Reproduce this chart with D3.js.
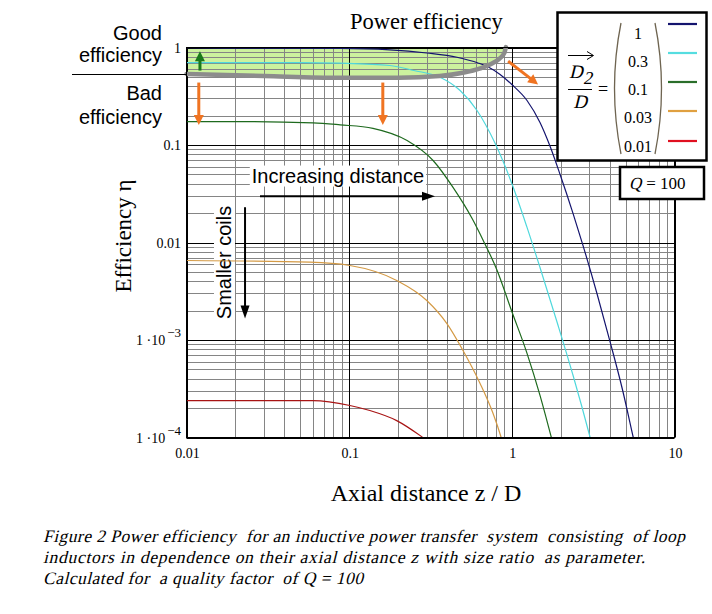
<!DOCTYPE html>
<html lang="en">
<head>
<meta charset="UTF-8">
<title>Power efficiency</title>
<style>
    body { margin: 0; background: #fff; }
    svg { display: block; }
</style>
</head>
<body>
<div id="chart"></div>
<script src="https://d3js.org/d3.v7.min.js"></script>
<script>
    var SERIF = "'Liberation Serif', 'Times New Roman', serif";
    var SANS = "'Liberation Sans', Arial, sans-serif";

    // Size ratios D2/D and their colours
    var ratios = ["1", "0.3", "0.1", "0.03", "0.01"];
    var curveColors = ["#14146e", "#4fd8dc", "#1e6a1e", "#d49a45", "#a81414"];
    var legendColors = ["#14146e", "#55dde0", "#2a6e2a", "#e0a040", "#e01020"];

    // Efficiency curves (z/D, eta)
    var zRatio1 = [0.01, 0.02, 0.088, 0.178, 0.3, 0.46, 0.62, 0.735, 0.847, 1.0, 1.24, 1.49, 1.72, 1.98, 2.38, 2.74, 3.35, 4.03, 4.77, 5.58, 6.2];
    var etaRatio1 = [0.995, 0.985, 0.98, 0.947, 0.878, 0.795, 0.694, 0.616, 0.529, 0.417, 0.286, 0.170, 0.0965, 0.0498, 0.0198, 0.0093, 0.00293, 9.4e-4, 3.18e-4, 1e-4, 4.6e-5];

    var zRatio03 = [0.01, 0.05, 0.088, 0.178, 0.25, 0.362, 0.481, 0.611, 0.789, 1.0, 1.24, 1.49, 1.9, 2.38, 3.03, 3.5];
    var etaRatio03 = [0.70, 0.70, 0.69, 0.654, 0.581, 0.496, 0.362, 0.226, 0.104, 0.0403, 0.0143, 0.00554, 0.00151, 4.32e-4, 1e-4, 3.9e-5];

    var zRatio01 = [0.01, 0.0213, 0.06, 0.088, 0.14, 0.227, 0.328, 0.435, 0.57, 0.667, 0.812, 1.0, 1.24, 1.49, 1.75, 1.98];
    var etaRatio01 = [0.174, 0.174, 0.169, 0.161, 0.148, 0.111, 0.0693, 0.0367, 0.0176, 0.0105, 0.00517, 0.00196, 7.3e-4, 2.7e-4, 1e-4, 4.6e-5];

    var zRatio003 = [0.01, 0.0574, 0.101, 0.196, 0.3, 0.398, 0.501, 0.638, 0.767, 0.86, 0.948];
    var etaRatio003 = [0.00654, 0.00628, 0.00581, 0.00408, 0.00254, 0.00148, 7.8e-4, 3.58e-4, 1.76e-4, 1e-4, 5.5e-5];

    var zRatio001 = [0.01, 0.06, 0.101, 0.134, 0.196, 0.284, 0.362];
    var etaRatio001 = [2.39e-4, 2.39e-4, 2.13e-4, 1.89e-4, 1.49e-4, 1e-4, 7.4e-5];

    // Border of the "good efficiency" zone
    var zBoundary = [0.01, 0.03, 0.088, 0.2, 0.36, 0.5, 0.64, 0.75, 0.84, 0.9, 0.92];
    var etaBoundary = [0.535, 0.51, 0.49, 0.49, 0.51, 0.55, 0.61, 0.68, 0.77, 0.88, 1.01];

    // Tick labels
    var xTickValues = [0.01, 0.1, 1, 10];
    var xTickLabels = ["0.01", "0.1", "1", "10"];
    var yTickValues = [1, 0.1, 0.01, 1e-3, 1e-4];
    var yTickLabels = [["1", ""], ["0.1", ""], ["0.01", ""], ["1 \u00b710", "\u22123"], ["1 \u00b710", "\u22124"]];

    var series = [
        { z: zRatio1, eta: etaRatio1 },
        { z: zRatio03, eta: etaRatio03 },
        { z: zRatio01, eta: etaRatio01 },
        { z: zRatio003, eta: etaRatio003 },
        { z: zRatio001, eta: etaRatio001 }
    ];

    var width = 712, height = 614;
    var svg = d3.select("#chart").append("svg")
        .attr("width", width)
        .attr("height", height);

    svg.append("rect").attr("width", width).attr("height", height).attr("fill", "#fff");

    var x = d3.scaleLog().domain([0.01, 10]).range([186.5, 674.5]);
    var y = d3.scaleLog().domain([1e-4, 1]).range([437.5, 47.5]);

    function isDecade(v) {
        var l = Math.log10(v);
        return Math.abs(l - Math.round(l)) < 1e-9;
    }

    function arrow(g, x1, y1, x2, y2, color, w, hl, hw) {
        var dx = x2 - x1, dy = y2 - y1;
        var len = Math.sqrt(dx * dx + dy * dy);
        var ux = dx / len, uy = dy / len;
        var bx = x2 - ux * hl, by = y2 - uy * hl;
        g.append("line")
            .attr("x1", x1).attr("y1", y1).attr("x2", bx + ux).attr("y2", by + uy)
            .attr("stroke", color).attr("stroke-width", w);
        g.append("path")
            .attr("d", "M" + x2 + "," + y2 +
                "L" + (bx - uy * hw / 2) + "," + (by + ux * hw / 2) +
                "L" + (bx + uy * hw / 2) + "," + (by - ux * hw / 2) + "Z")
            .attr("fill", color);
    }

    // slanted serif text (italic drawn by skewing the upright face)
    function slanted(g, px, py, size) {
        return g.append("text")
            .attr("transform", "translate(" + px + "," + py + ") skewX(-14)")
            .attr("font-family", SERIF)
            .attr("font-size", size);
    }

    svg.append("clipPath").attr("id", "plotClip")
        .append("rect")
        .attr("x", x.range()[0]).attr("y", y.range()[1])
        .attr("width", x.range()[1] - x.range()[0])
        .attr("height", y.range()[0] - y.range()[1]);

    // Green "good efficiency" zone
    var boundary = zBoundary.map(function(d, i) { return [d, etaBoundary[i]]; });
    svg.append("path")
        .datum(boundary)
        .attr("clip-path", "url(#plotClip)")
        .attr("fill", "#ccf29e")
        .attr("d", d3.area()
            .x(function(d) { return x(d[0]); })
            .y0(y(1))
            .y1(function(d) { return y(d[1]); })
            .curve(d3.curveMonotoneX));

    // Grid
    var grid = svg.append("g");
    var xTicks = x.ticks();
    var yTicks = y.ticks();
    grid.selectAll(".vminor").data(xTicks.filter(function(d) { return !isDecade(d); }))
        .enter().append("line")
        .attr("x1", function(d) { return Math.round(x(d)) + 0.5; })
        .attr("x2", function(d) { return Math.round(x(d)) + 0.5; })
        .attr("y1", y.range()[1]).attr("y2", y.range()[0])
        .attr("stroke", "#858585").attr("stroke-width", 1);
    grid.selectAll(".hminor").data(yTicks.filter(function(d) { return !isDecade(d); }))
        .enter().append("line")
        .attr("y1", function(d) { return Math.round(y(d)) + 0.5; })
        .attr("y2", function(d) { return Math.round(y(d)) + 0.5; })
        .attr("x1", x.range()[0]).attr("x2", x.range()[1])
        .attr("stroke", "#858585").attr("stroke-width", 1);
    grid.selectAll(".vmajor").data(xTicks.filter(isDecade))
        .enter().append("line")
        .attr("x1", function(d) { return Math.round(x(d)) + 0.5; })
        .attr("x2", function(d) { return Math.round(x(d)) + 0.5; })
        .attr("y1", y.range()[1]).attr("y2", y.range()[0])
        .attr("stroke", "#000").attr("stroke-width", 1);
    grid.selectAll(".hmajor").data(yTicks.filter(isDecade))
        .enter().append("line")
        .attr("y1", function(d) { return Math.round(y(d)) + 0.5; })
        .attr("y2", function(d) { return Math.round(y(d)) + 0.5; })
        .attr("x1", x.range()[0]).attr("x2", x.range()[1])
        .attr("stroke", "#000").attr("stroke-width", 1);

    // Text annotations inside the plot (white background)
    var distText = svg.append("text").attr("font-family", SANS)
        .attr("x", x(0.0252)).attr("y", y(0.0412))
        .attr("font-size", 20).text("Increasing distance");
    var bb = distText.node().getBBox();
    svg.insert("rect", function() { return distText.node(); })
        .attr("x", bb.x - 2).attr("y", bb.y + 1).attr("width", bb.width + 4).attr("height", bb.height - 1)
        .attr("fill", "#fff");

    var coilsG = svg.append("g")
        .attr("transform", "translate(" + x(0.017) + "," + y(0.00624) + ") rotate(-90)");
    var coilsText = coilsG.append("text").attr("font-family", SANS)
        .attr("text-anchor", "middle").attr("dy", "0.35em")
        .attr("font-size", 20).text("Smaller coils");
    var cb = coilsText.node().getBBox();
    coilsG.insert("rect", "text")
        .attr("x", cb.x - 2).attr("y", cb.y + 1).attr("width", cb.width + 4).attr("height", cb.height - 1)
        .attr("fill", "#fff");

    // Efficiency curves
    var line = d3.line()
        .x(function(d) { return x(d[0]); })
        .y(function(d) { return y(d[1]); })
        .curve(d3.curveMonotoneX);
    var curves = svg.append("g").attr("clip-path", "url(#plotClip)");
    series.forEach(function(s, i) {
        curves.append("path")
            .datum(s.z.map(function(d, j) { return [d, s.eta[j]]; }))
            .attr("fill", "none")
            .attr("stroke", curveColors[i])
            .attr("stroke-width", 1.2)
            .attr("d", line);
    });

    // Grey boundary of the good zone
    svg.append("path")
        .datum(boundary)
        .attr("fill", "none")
        .attr("stroke", "#8c8c8c")
        .attr("stroke-width", 4.5)
        .attr("stroke-linecap", "round")
        .attr("d", line);

    // Plot frame
    svg.append("rect")
        .attr("x", x.range()[0]).attr("y", y.range()[1])
        .attr("width", x.range()[1] - x.range()[0])
        .attr("height", y.range()[0] - y.range()[1])
        .attr("fill", "none").attr("stroke", "#000").attr("stroke-width", 1);

    // Arrows
    var arrows = svg.append("g");
    arrow(arrows, x(0.0121), y(0.58), x(0.0121), y(0.915), "#1a7a1a", 3, 10, 10);
    arrow(arrows, x(0.0119), y(0.437), x(0.0119), y(0.160), "#f07422", 3, 10, 10);
    arrow(arrows, x(0.161), y(0.437), x(0.161), y(0.160), "#f07422", 3, 10, 10);
    arrow(arrows, x(0.949), y(0.724), x(1.45), y(0.418), "#f07422", 3, 10, 10);
    arrow(arrows, x(0.0283), y(0.0298), x(0.337), y(0.0298), "#000", 2, 13, 9);
    arrow(arrows, x(0.0229), y(0.023), x(0.0229), y(0.00166), "#000", 2, 13, 9);

    // Tick labels
    svg.selectAll(".xlab").data(xTickValues).enter().append("text")
        .attr("font-family", SERIF)
        .attr("x", function(d) { return x(d) + 1; })
        .attr("y", 458)
        .attr("text-anchor", "middle")
        .attr("font-size", 14)
        .text(function(d, i) { return xTickLabels[i]; });

    yTickValues.forEach(function(v, i) {
        var t = svg.append("text").attr("font-family", SERIF)
            .attr("x", 181).attr("y", y(v) + 5)
            .attr("text-anchor", "end").attr("font-size", 14);
        t.append("tspan").text(yTickLabels[i][0]);
        if (yTickLabels[i][1]) {
            t.append("tspan").attr("dx", 2).attr("dy", -8).attr("font-size", 13).text(yTickLabels[i][1]);
        }
    });

    // Axis titles
    svg.append("text").attr("font-family", SERIF)
        .attr("transform", "translate(131,236) rotate(-90)")
        .attr("text-anchor", "middle").attr("font-size", 23)
        .text("Efficiency \u03b7");
    svg.append("text").attr("font-family", SERIF)
        .attr("x", 426).attr("y", 501)
        .attr("text-anchor", "middle").attr("font-size", 24)
        .text("Axial distance z / D");

    // Title
    svg.append("text").attr("font-family", SERIF)
        .attr("x", 350).attr("y", 29).attr("font-size", 22.5)
        .text("Power efficiency");

    // Good / bad efficiency labels at the left
    var side = svg.append("g").attr("font-family", SANS).attr("font-size", 20).attr("text-anchor", "end");
    side.append("text").attr("x", 162).attr("y", 40).text("Good");
    side.append("text").attr("x", 162).attr("y", 62).text("efficiency");
    side.append("text").attr("x", 162).attr("y", 100).text("Bad");
    side.append("text").attr("x", 162).attr("y", 124).text("efficiency");
    svg.append("line").attr("x1", 72).attr("x2", 186).attr("y1", 74.5).attr("y2", 74.5)
        .attr("stroke", "#000").attr("stroke-width", 1);

    // Legend
    var lg = svg.append("g");
    lg.append("rect").attr("x", 557.5).attr("y", 12.5).attr("width", 149).attr("height", 148)
        .attr("fill", "#fff").attr("stroke", "#000").attr("stroke-width", 2.5);
    // vector arrow over D2
    lg.append("line").attr("x1", 568).attr("x2", 593).attr("y1", 55.5).attr("y2", 55.5)
        .attr("stroke", "#000").attr("stroke-width", 1);
    lg.append("path").attr("d", "M587,51.5 L593.5,55.5 L587,59.5")
        .attr("fill", "none").attr("stroke", "#000").attr("stroke-width", 1);
    slanted(lg, 569, 78, 19).text("D");
    slanted(lg, 583, 84, 18).text("2");
    lg.append("line").attr("x1", 568).attr("x2", 592).attr("y1", 89.5).attr("y2", 89.5)
        .attr("stroke", "#000").attr("stroke-width", 1);
    slanted(lg, 580, 108, 19).attr("text-anchor", "middle").text("D");
    lg.append("text").attr("font-family", SERIF).attr("font-size", 18)
        .attr("x", 603).attr("y", 95).attr("text-anchor", "middle").text("=");
    // big parentheses
    lg.append("path").attr("d", "M621,23 Q608,88 621,154")
        .attr("fill", "none").attr("stroke", "#6e6450").attr("stroke-width", 1.3);
    lg.append("path").attr("d", "M655,23 Q668,88 655,154")
        .attr("fill", "none").attr("stroke", "#6e6450").attr("stroke-width", 1.3);
    var legendY = [33, 61, 89, 117, 146];
    var swatchY = [24, 53, 82, 111, 141];
    ratios.forEach(function(r, i) {
        lg.append("text").attr("font-family", SERIF).attr("font-size", 16)
            .attr("x", 638).attr("y", legendY[i] + 5.5).attr("text-anchor", "middle").text(r);
        lg.append("line").attr("x1", 668).attr("x2", 697)
            .attr("y1", swatchY[i]).attr("y2", swatchY[i])
            .attr("stroke", legendColors[i]).attr("stroke-width", 2.2);
    });

    // Q box
    svg.append("rect").attr("x", 620).attr("y", 167).attr("width", 84).attr("height", 32)
        .attr("fill", "#fff").attr("stroke", "#000").attr("stroke-width", 2.5);
    slanted(svg, 629, 189, 17).text("Q");
    svg.append("text").attr("font-family", SERIF).attr("font-size", 17)
        .attr("x", 642).attr("y", 189).attr("xml:space", "preserve").text(" = 100");

    // Caption
    var captionLines = [
        "Figure 2 Power efficiency  for an inductive power transfer  system  consisting  of loop",
        "inductors in dependence on their axial distance z with size ratio  as parameter.",
        "Calculated for  a quality factor  of Q = 100"
    ];
    var captionWidths = [642, 602, 320];
    captionLines.forEach(function(c, i) {
        slanted(svg, 43, 542 + i * 21, 17.5)
            .attr("textLength", captionWidths[i])
            .attr("lengthAdjust", "spacing")
            .attr("xml:space", "preserve")
            .text(c);
    });
</script>
</body>
</html>
